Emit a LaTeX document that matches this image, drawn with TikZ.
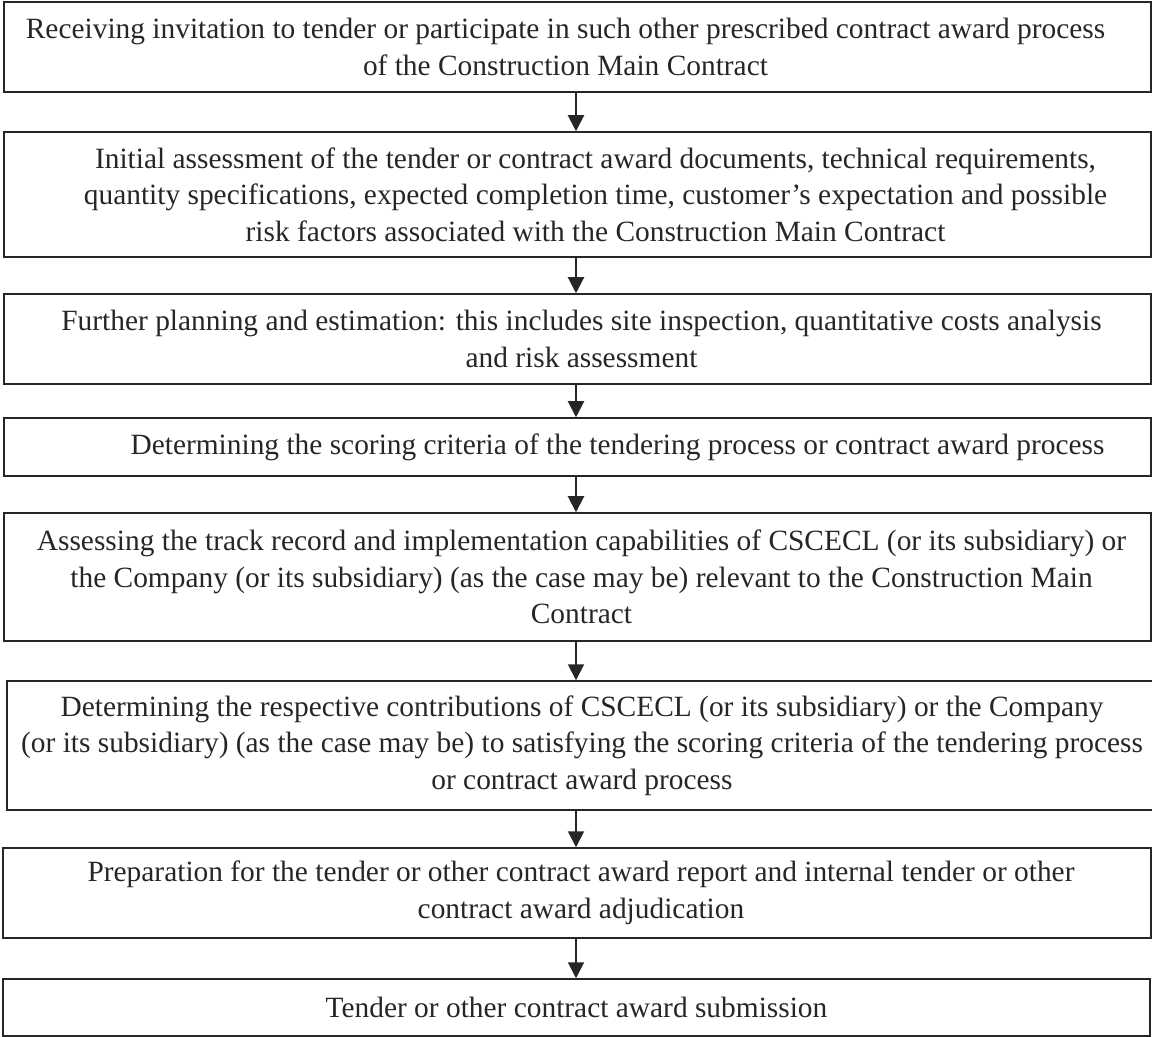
\documentclass[tikz,border=0pt]{standalone}
\usepackage{fontspec}
\setmainfont{Liberation Serif}
\usetikzlibrary{arrows.meta}
\begin{document}
\begin{tikzpicture}[x=0.5pt,y=-0.5pt,
  box/.style={draw=black!85, line width=0.75pt, rectangle, inner sep=0pt},
  txt/.style={align=center, inner sep=0pt, font=\fontsize{14.7pt}{18.25pt}\selectfont, text=black!85},
  arr/.style={draw=black!85, line width=1pt, -{Triangle[length=8pt,width=8pt]}}]
\useasboundingbox (0,0) rectangle (1152,1037);
% boxes
\node[box, minimum width=573.5pt, minimum height=45pt] (b1) at (577.5,47) {};
\node[box, minimum width=573.5pt, minimum height=62.5pt] (b2) at (577.5,194.5) {};
\node[box, minimum width=573.5pt, minimum height=45pt] (b3) at (577.5,339) {};
\node[box, minimum width=573.5pt, minimum height=29pt] (b4) at (577.5,447) {};
\node[box, minimum width=573.5pt, minimum height=64pt] (b5) at (577.5,577) {};
\node[box, minimum width=573pt, minimum height=64.5pt] (b6) at (580,745.5) {};
\node[box, minimum width=574pt, minimum height=45pt] (b7) at (577,893) {};
\node[box, minimum width=573.5pt, minimum height=28.5pt] (b8) at (576.5,1007.5) {};
% texts
\node[txt] (t1) at ([xshift=-6pt]b1.center) {Receiving invitation to tender or participate in such other prescribed contract award process\\of the Construction Main Contract};
\node[txt] (t2) at ([xshift=9pt]b2.center) {Initial assessment of the tender or contract award documents, technical requirements,\\quantity specifications, expected completion time, customer’s expectation and possible\\risk factors associated with the Construction Main Contract};
\node[txt] (t3) at ([xshift=2pt]b3.center) {Further planning and estimation: this includes site inspection, quantitative costs analysis\\and risk assessment};
\node[txt] (t4) at ([xshift=20pt]b4.center) {Determining the scoring criteria of the tendering process or contract award process};
\node[txt] (t5) at ([xshift=2pt]b5.center) {Assessing the track record and implementation capabilities of CSCECL (or its subsidiary) or\\the Company (or its subsidiary) (as the case may be) relevant to the Construction Main\\Contract};
\node[txt] (t6) at ([xshift=1pt]b6.center) {Determining the respective contributions of CSCECL (or its subsidiary) or the Company\\(or its subsidiary) (as the case may be) to satisfying the scoring criteria of the tendering process\\or contract award process};
\node[txt] (t7) at ([xshift=2pt]b7.center) {Preparation for the tender or other contract award report and internal tender or other\\contract award adjudication};
\node[txt] (t8) at (b8.center) {Tender or other contract award submission};
% arrows
\coordinate (ax) at (576,0);
\draw[arr] (b1.south -| ax) -- (b2.north -| ax);
\draw[arr] (b2.south -| ax) -- (b3.north -| ax);
\draw[arr] (b3.south -| ax) -- (b4.north -| ax);
\draw[arr] (b4.south -| ax) -- (b5.north -| ax);
\draw[arr] (b5.south -| ax) -- (b6.north -| ax);
\draw[arr] (b6.south -| ax) -- (b7.north -| ax);
\draw[arr] (b7.south -| ax) -- (b8.north -| ax);
\end{tikzpicture}
\end{document}
